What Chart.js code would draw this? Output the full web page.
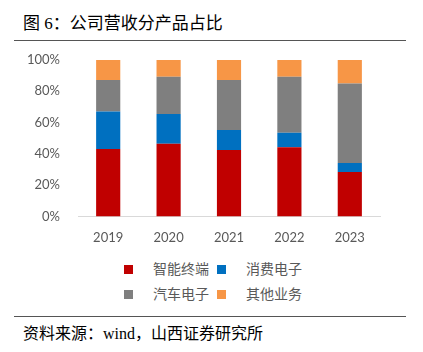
<!DOCTYPE html>
<html>
<head>
<meta charset="utf-8">
<script src="https://cdn.jsdelivr.net/npm/chart.js@4/dist/chart.umd.min.js"></script>
<style>
  body { margin: 0; width: 423px; height: 352px; background: #fff; position: relative; overflow: hidden; }
  .title { position: absolute; left: 23px; top: 9px; font: 17px "Liberation Serif", "Noto Sans CJK SC"; color: #000; }
  .rule { position: absolute; left: 14px; width: 392px; height: 0; border-top: 1px solid #555; }
  .source { position: absolute; left: 23px; top: 320px; font: 16px "Liberation Serif", "Noto Sans CJK SC"; color: #000; }
  #wrap { position: absolute; left: 0; top: 0; width: 423px; height: 252px; }
  #legend { position: absolute; left: 124px; top: 258px; display: grid; grid-template-columns: 93px 93px; row-gap: 5px; font: 14px "Noto Sans CJK SC"; color: #595959; }
  #legend span.sw { display: inline-block; width: 9px; height: 9px; margin-right: 20px; vertical-align: middle; position: relative; top: -1px; }
</style>
</head>
<body>
<div class="title">图 6：公司营收分产品占比</div>
<div class="rule" style="top:40px"></div>
<div id="wrap"><canvas id="chart"></canvas></div>
<div id="legend"></div>
<div class="rule" style="top:316px"></div>
<div class="source">资料来源：wind，山西证券研究所</div>
<script>
const years = ["2019", "2020", "2021", "2022", "2023"];
const smartTerminal = [43.1, 46.5, 42.5, 44.2, 28.4];
const consumerElec = [23.9, 19.0, 12.8, 9.3, 5.8];
const autoElec = [20.2, 23.8, 31.9, 35.8, 50.7];
const otherBiz = [12.8, 10.7, 12.8, 10.7, 15.1];
const seriesNames = ["智能终端", "消费电子", "汽车电子", "其他业务"];
const seriesColors = ["#C00000", "#0070C0", "#7F7F7F", "#F79646"];
const yTicks = [0, 20, 40, 60, 80, 100];

const seriesData = [smartTerminal, consumerElec, autoElec, otherBiz];

const ctx = document.getElementById("chart").getContext("2d");
const chart = new Chart(ctx, {
  type: "bar",
  data: {
    labels: years,
    datasets: seriesNames.map((name, i) => ({
      label: name,
      data: seriesData[i],
      backgroundColor: seriesColors[i],
      categoryPercentage: 0.4,
      barPercentage: 1,
    })),
  },
  options: {
    responsive: true,
    maintainAspectRatio: false,
    animation: false,
    layout: { padding: { top: 60, right: 43, bottom: 0, left: 0 } },
    plugins: { legend: { display: false }, tooltip: { enabled: false } },
    scales: {
      x: {
        stacked: true,
        grid: { display: false },
        border: { color: "#D9D9D9" },
        ticks: { color: "#595959", font: { family: "Lato", size: 13 }, padding: 6 },
      },
      y: {
        stacked: true,
        min: 0,
        max: 100,
        afterBuildTicks: (s) => { s.ticks = yTicks.map((v) => ({ value: v })); },
        afterFit: (s) => { s.width = 78; },
        grid: { display: false },
        border: { display: false },
        ticks: {
          color: "#595959",
          font: { family: "Lato", size: 13 },
          padding: 10,
          callback: (v) => v + "%",
        },
      },
    },
  },
});

const legendEl = document.getElementById("legend");
seriesNames.forEach((name, i) => {
  const d = document.createElement("div");
  d.innerHTML = `<span class="sw" style="background:${seriesColors[i]}"></span>${name}`;
  legendEl.appendChild(d);
});
</script>
</body>
</html>
